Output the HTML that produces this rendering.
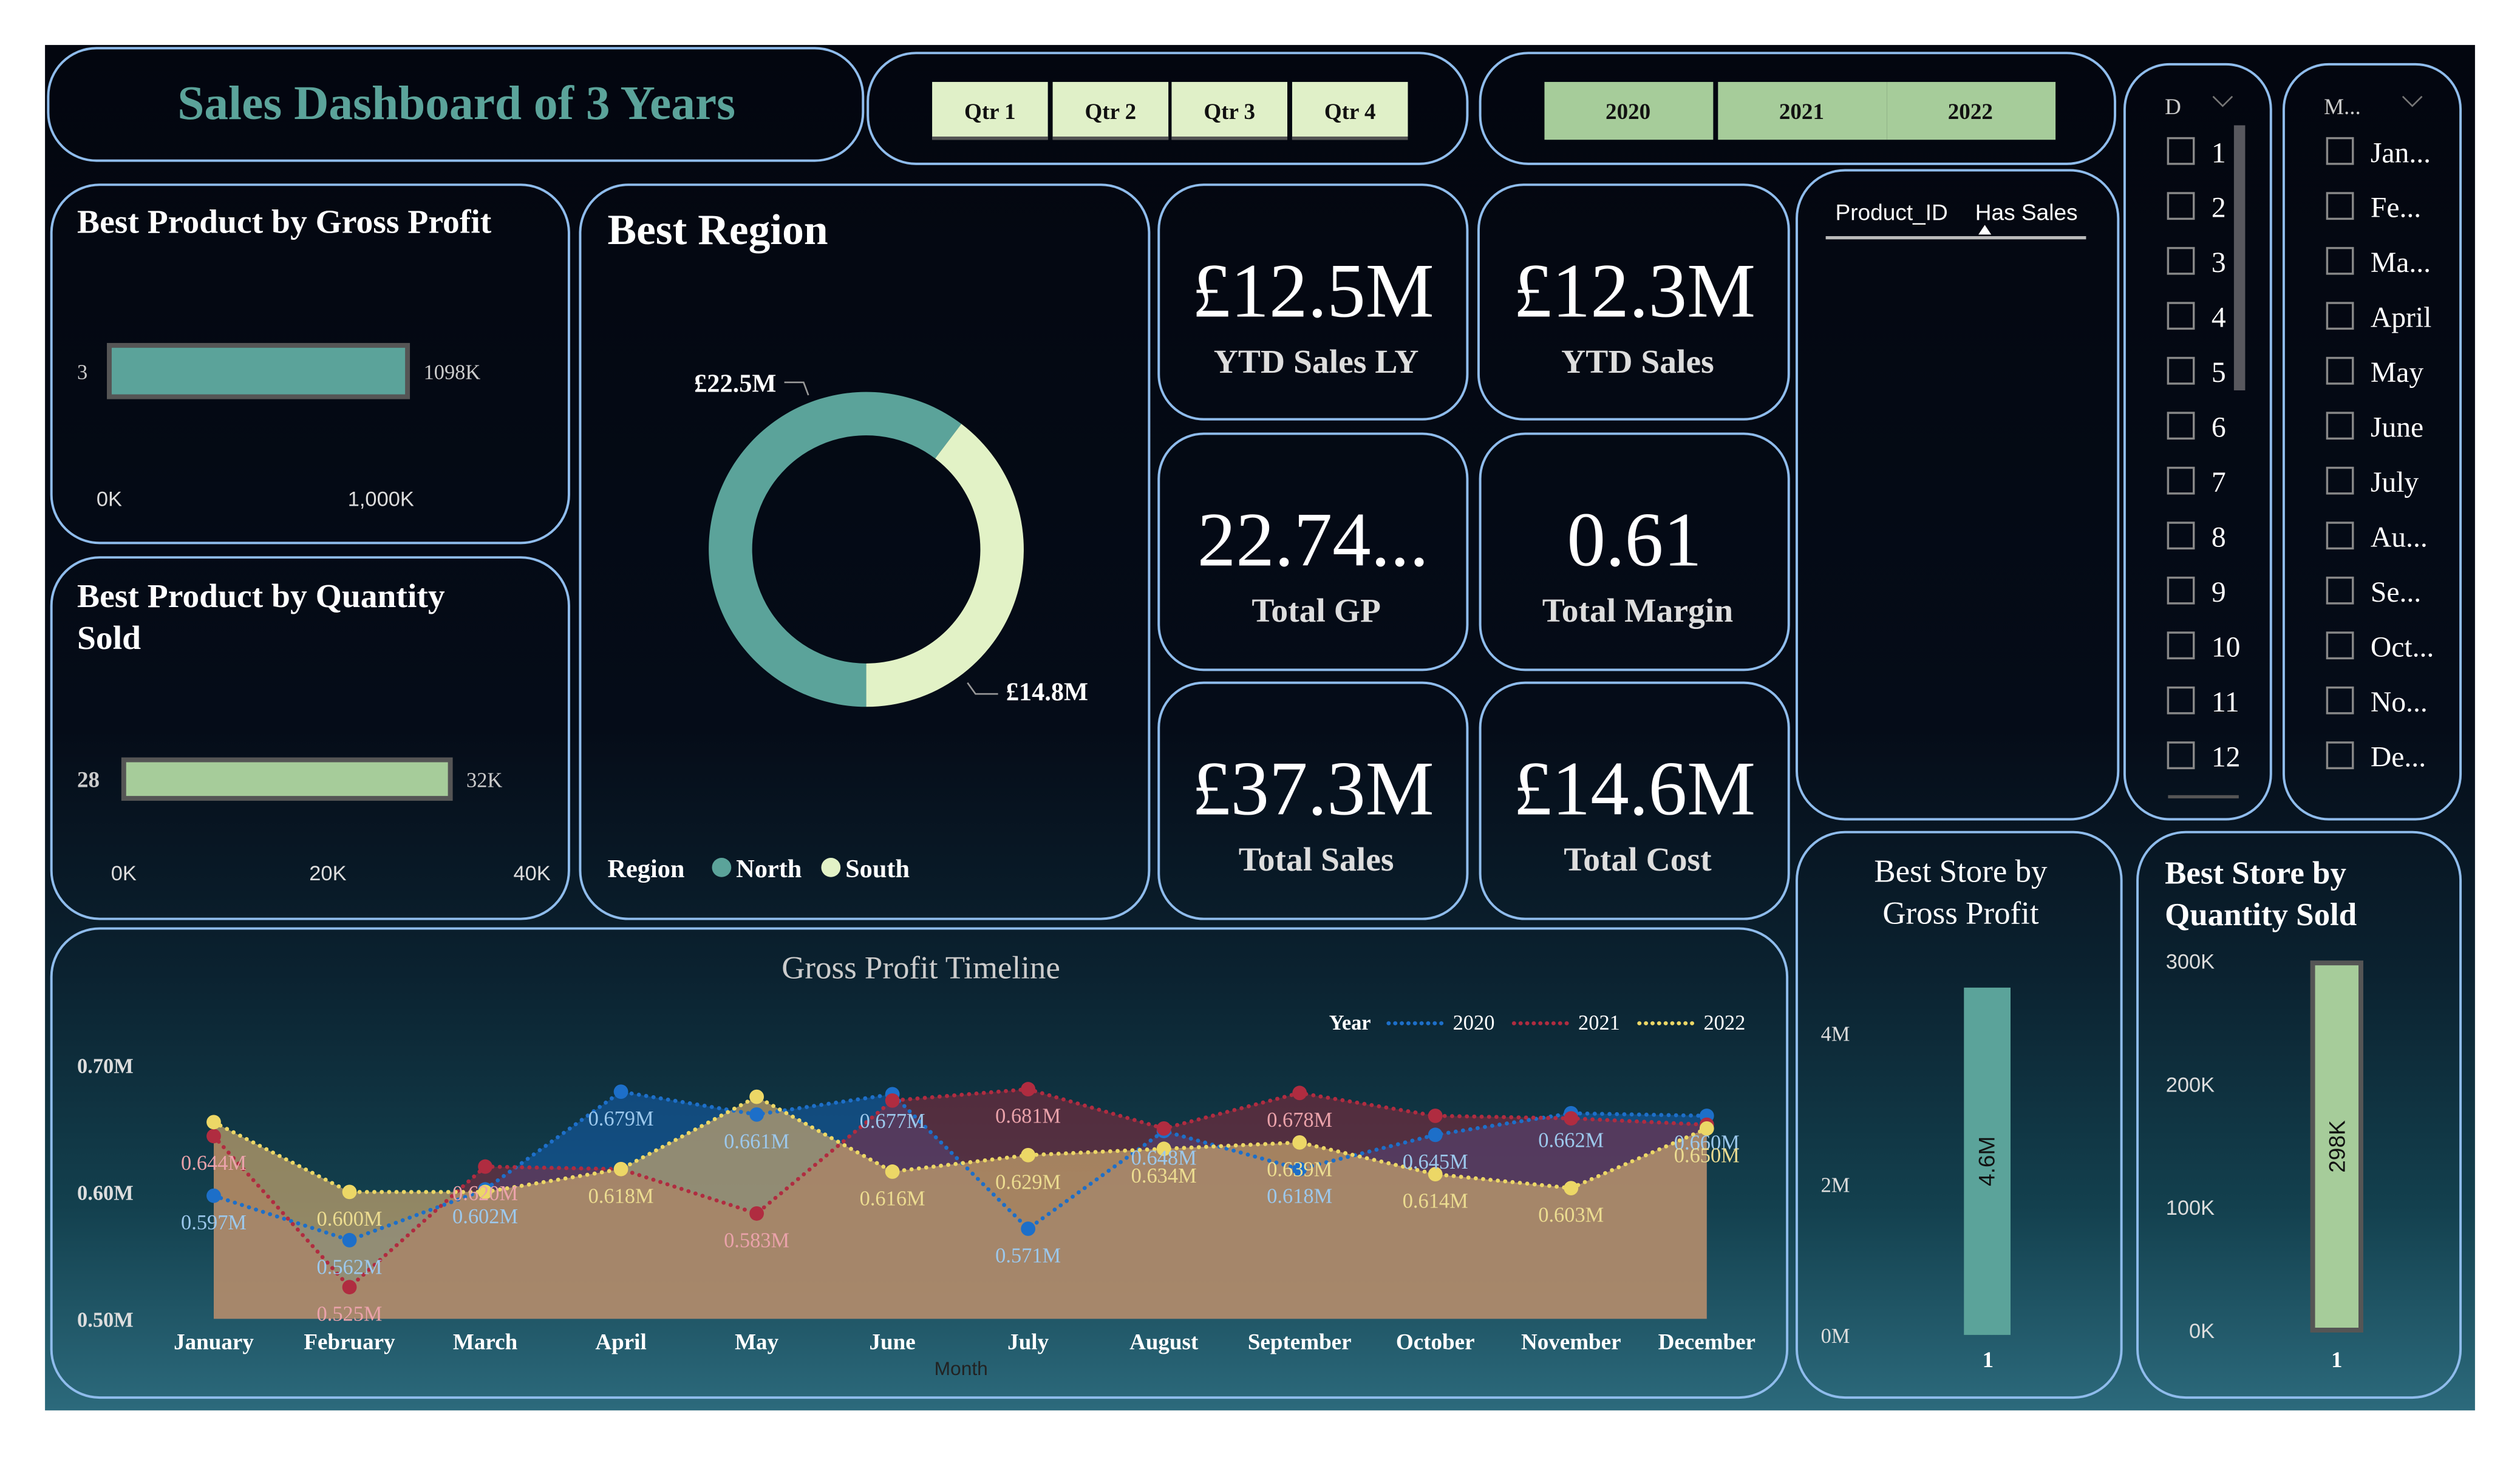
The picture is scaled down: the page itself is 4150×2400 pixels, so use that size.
<!DOCTYPE html>
<html><head><meta charset="utf-8"><style>
html,body{margin:0;padding:0;background:#fff;width:4150px;height:2400px;overflow:hidden}
svg{display:block}
text{font-family:"Liberation Serif",serif}
.sans{font-family:"Liberation Sans",sans-serif}
</style></head><body>
<svg id="root" width="4150" height="2400" viewBox="0 0 1568 907" preserveAspectRatio="none" xmlns="http://www.w3.org/2000/svg">
<defs>
<linearGradient id="bg" x1="0" y1="0" x2="0" y2="1">
<stop offset="0" stop-color="#03060f"/><stop offset="0.5" stop-color="#050c18"/>
<stop offset="0.68" stop-color="#0b2230"/><stop offset="0.85" stop-color="#13404e"/><stop offset="1" stop-color="#2c6a7c"/>
</linearGradient>
</defs>
<rect x="28" y="28" width="1512" height="850" fill="url(#bg)"/>
<g id="panels" fill="none" stroke="#8fbcec" stroke-width="1.5"></g>

<text x="284" y="74" text-anchor="middle" font-size="30" font-weight="bold" fill="#5ba39a">Sales Dashboard of 3 Years</text>

<g id="qtr"></g><g id="years"></g>

<text x="48" y="145" font-size="21" font-weight="bold" fill="#fff">Best Product by Gross Profit</text>
<g id="prodgp"></g>
<text x="48" y="378" font-size="21" font-weight="bold" fill="#fff">Best Product by Quantity</text>
<text x="48" y="404" font-size="21" font-weight="bold" fill="#fff">Sold</text>
<g id="prodqty"></g>

<text x="378" y="152" font-size="27" font-weight="bold" fill="#fff">Best Region</text>
<g id="donut"></g>
<text x="378" y="546" font-size="16" font-weight="bold" fill="#fff">Region</text>
<circle cx="449" cy="540" r="6" fill="#5ba39a"/>
<text x="458" y="546" font-size="16" font-weight="bold" fill="#fff">North</text>
<circle cx="517" cy="540" r="6" fill="#e2f2c6"/>
<text x="526" y="546" font-size="16" font-weight="bold" fill="#fff">South</text>

<g id="kpis"></g>

<text x="1142" y="137" font-size="14" fill="#fff" class="sans">Product_ID</text>
<text x="1229" y="137" font-size="14" fill="#fff" class="sans">Has Sales</text>
<path d="M1231 146 L1235 140 L1239 146 Z" fill="#fff"/>
<rect x="1136" y="147" width="162" height="2" fill="#bbb"/>

<g id="slicers"></g>
<g id="timeline"></g>
<g id="stores"></g>
</svg>
<script>
const NS="http://www.w3.org/2000/svg";
function mk(tag,attrs,parent,txt){const e=document.createElementNS(NS,tag);for(const k in attrs)e.setAttribute(k,attrs[k]);if(txt!==undefined)e.textContent=txt;parent.appendChild(e);return e;}
const $=id=>document.getElementById(id);

// ---- data arrays ----
const months=["January","February","March","April","May","June","July","August","September","October","November","December"];
const gp2020=[0.597,0.562,0.602,0.679,0.661,0.677,0.571,0.648,0.618,0.645,0.662,0.660];
const gp2021=[0.644,0.525,0.620,0.618,0.583,0.672,0.681,0.650,0.678,0.660,0.658,0.653];
const gp2022=[0.655,0.600,0.600,0.618,0.675,0.616,0.629,0.634,0.639,0.614,0.603,0.650];
const show2020=[1,1,1,1,1,1,1,1,1,1,1,1];
const show2021=[1,1,1,0,1,0,1,0,1,0,0,0];
const show2022=[0,1,0,1,0,1,1,1,1,1,1,1];
const gpTicks=[0.50,0.60,0.70];
const regionNames=["North","South"];
const regionValues=[22.5,14.8];
const prodGpValue=[1098];
const prodGpTicks=[0,1000];
const prodQtyValue=[32];
const prodQtyTicks=[0,20,40];
const storeGpValue=[4.6];
const storeGpTicks=[0,2,4];
const storeQtyValue=[298];
const storeQtyTicks=[0,100,200,300];
const kpiValues=["£12.5M","£12.3M","22.74...","0.61","£37.3M","£14.6M"];
const kpiLabels=["YTD Sales LY","YTD Sales","Total GP","Total Margin","Total Sales","Total Cost"];
const dayItems=["1","2","3","4","5","6","7","8","9","10","11","12"];
const monthItems=["Jan...","Fe...","Ma...","April","May","June","July","Au...","Se...","Oct...","No...","De..."];

const panels=[["title-panel",30,30,507,70,30],["quarter-slicer-panel",540,33,373,69,30],["year-slicer-panel",921,33,395,69,30],
["day-slicer-panel",1322,40,91,470,28],["month-slicer-panel",1421,40,110,470,28],
["product-gp-panel",32,115,322,223,30],["product-qty-panel",32,347,322,225,30],["region-panel",361,115,354,457,30],
["kpi-panel-1",721,115,192,146,28],["kpi-panel-2",920,115,193,146,28],["kpi-panel-3",721,270,192,147,28],
["kpi-panel-4",921,270,192,147,28],["kpi-panel-5",721,425,192,147,28],["kpi-panel-6",921,425,192,147,28],
["product-table-panel",1118,106,200,404,30],["gp-timeline-panel",32,578,1080,292,30],
["store-gp-panel",1118,518,202,352,30],["store-qty-panel",1330,518,201,352,30]];
panels.forEach(p=>{const r=mk("rect",{x:p[1],y:p[2],width:p[3],height:p[4],rx:p[5]},$("panels"));

});

const qx=[580,655,729,804];
["Qtr 1","Qtr 2","Qtr 3","Qtr 4"].forEach((q,i)=>{
 const r=mk("rect",{x:qx[i],y:51,width:72,height:36,fill:"#e0f0c8"},$("qtr"));
 
 
 mk("rect",{x:qx[i],y:85,width:72,height:2,fill:"#555"},$("qtr"));
 const t=mk("text",{x:qx[i]+36,y:74,"text-anchor":"middle","font-size":14,"font-weight":"bold",fill:"#111"},$("qtr"),q);
 
 
});
const yx=[961,1069,1174];
["2020","2021","2022"].forEach((y,i)=>{
 const r=mk("rect",{x:yx[i],y:51,width:105,height:36,fill:"#a6cc9a"},$("years"));
 
 
 const t=mk("text",{x:yx[i]+52,y:74,"text-anchor":"middle","font-size":14,"font-weight":"bold",fill:"#111"},$("years"),y);
 
 
});

(function(){
 const g=$("prodgp"),x0=68,sx=169/1000;
 const b=mk("rect",{x:x0,y:215,width:prodGpValue[0]*sx,height:32,fill:"#5ba39a",stroke:"#555","stroke-width":3},g);
 
 
 mk("text",{x:48,y:236,"font-size":13,fill:"#ccc"},g,"3");
 mk("text",{x:x0+prodGpValue[0]*sx+10,y:236,"font-size":13,fill:"#ccc"},g,prodGpValue[0]+"K");
 prodGpTicks.forEach(t=>{const e=mk("text",{x:x0+t*sx,y:315,"text-anchor":"middle","font-size":13,fill:"#ddd",class:"sans"},g,t===0?"0K":(t/1000).toFixed(3).replace(".",",")+"K");
  
  });
 const g2=$("prodqty"),x1=77,s2=127/20;
 const b2=mk("rect",{x:x1,y:473,width:prodQtyValue[0]*s2,height:24,fill:"#a6cc9a",stroke:"#555","stroke-width":3},g2);
 
 
 mk("text",{x:48,y:490,"font-size":14,"font-weight":"bold",fill:"#ccc"},g2,"28");
 mk("text",{x:x1+prodQtyValue[0]*s2+10,y:490,"font-size":13,fill:"#ccc"},g2,prodQtyValue[0]+"K");
 prodQtyTicks.forEach(t=>{const e=mk("text",{x:x1+t*s2,y:548,"text-anchor":"middle","font-size":13,fill:"#ddd",class:"sans"},g2,t+"K");
  
  });
})();

(function(){
 const g=$("donut"),cx=539,cy=342,R=98,r=71;
 const tot=regionValues.reduce((a,b)=>a+b,0);
 const cols=["#5ba39a","#e2f2c6"];
 let start=180;
 const pt=(a,rad)=>[cx+rad*Math.sin(a*Math.PI/180),cy-rad*Math.cos(a*Math.PI/180)];
 regionValues.forEach((v,i)=>{
  const sw=v/tot*360,end=start+sw;
  const [x1,y1]=pt(start,R),[x2,y2]=pt(end,R),[x3,y3]=pt(end,r),[x4,y4]=pt(start,r);
  const lg=sw>180?1:0;
  const p=mk("path",{d:`M${x1} ${y1} A${R} ${R} 0 ${lg} 1 ${x2} ${y2} L${x3} ${y3} A${r} ${r} 0 ${lg} 0 ${x4} ${y4}Z`,fill:cols[i]},g);
  
  
  start=end;
 });
 mk("text",{x:483,y:244,"text-anchor":"end","font-size":16,"font-weight":"bold",fill:"#fff"},g,"£"+regionValues[0]+"M");
 mk("path",{d:"M488 238 L500 238 L503 246",stroke:"#999",fill:"none"},g);
 mk("text",{x:626,y:436,"font-size":16,"font-weight":"bold",fill:"#fff"},g,"£"+regionValues[1]+"M");
 mk("path",{d:"M602 425 L607 432 L621 432",stroke:"#999",fill:"none"},g);
})();

const kcx=[817,1017,817,1017,817,1017],kcy=[115,115,270,270,425,425];
kpiValues.forEach((v,i)=>{
 const a=mk("text",{x:kcx[i],y:kcy[i]+82,"text-anchor":"middle","font-size":48,fill:"#fff"},$("kpis"),v);
 
 
 const b=mk("text",{x:kcx[i]+2,y:kcy[i]+117,"text-anchor":"middle","font-size":21,"font-weight":"bold",fill:"#ddd"},$("kpis"),kpiLabels[i]);
 
 
});

(function(){
 const g=$("slicers");
 mk("text",{x:1347,y:71,"font-size":14,fill:"#ccc"},g,"D");
 mk("path",{d:"M1377 60 L1383 66 L1389 60",stroke:"#777",fill:"none"},g);
 mk("text",{x:1446,y:71,"font-size":14,fill:"#ccc"},g,"M...");
 mk("path",{d:"M1495 60 L1501 66 L1507 60",stroke:"#777",fill:"none"},g);
 mk("rect",{x:1390,y:78,width:7,height:165,fill:"#58585e"},g);
 mk("rect",{x:1349,y:495,width:44,height:2,fill:"#555"},g);
 dayItems.forEach((d,i)=>{const y=94+i*34.2;
  const c=mk("rect",{x:1349,y:y-8,width:16,height:16,fill:"none",stroke:"#888","stroke-width":1.3},g);
  
  
  mk("text",{x:1376,y:y+7,"font-size":18,fill:"#fff"},g,d);});
 monthItems.forEach((m,i)=>{const y=94+i*34.2;
  const c=mk("rect",{x:1448,y:y-8,width:16,height:16,fill:"none",stroke:"#888","stroke-width":1.3},g);
  
  
  mk("text",{x:1475,y:y+7,"font-size":18,fill:"#fff"},g,m);});
})();

(function(){
 const g=$("timeline");
 const X=i=>133+i*(1062-133)/11;
 const Y=v=>821-(v-0.5)*790;
 mk("text",{x:573,y:609,"text-anchor":"middle","font-size":20,fill:"#ccc"},g,"Gross Profit Timeline");
 gpTicks.forEach(t=>{const e=mk("text",{x:48,y:Y(t)+5,"font-size":13,"font-weight":"bold",fill:"#ddd"},g,t.toFixed(2)+"M");
  
  });
 months.forEach((m,i)=>{const e=mk("text",{x:X(i),y:840,"text-anchor":"middle","font-size":14,"font-weight":"bold",fill:"#fff"},g,m);
  
  });
 mk("text",{x:598,y:856,"text-anchor":"middle","font-size":12,fill:"#222",class:"sans"},g,"Month");
 const series=[["2020",gp2020,"#1d6fc9","rgba(20,95,175,0.55)","#9cc8ec",show2020],["2021",gp2021,"#b02c40","rgba(150,40,60,0.5)","#eaa2aa",show2021],["2022",gp2022,"#ecd766","rgba(200,165,110,0.7)","#ecdc90",show2022]];
 series.forEach(s=>{
  let d=`M${X(0)} ${Y(0.5)}`;s[1].forEach((v,i)=>d+=` L${X(i)} ${Y(v)}`);d+=` L${X(11)} ${Y(0.5)}Z`;
  const a=mk("path",{d,fill:s[3]},g);
  
  
 });
 series.forEach(s=>{
  const l=mk("polyline",{points:s[1].map((v,i)=>X(i)+","+Y(v)).join(" "),fill:"none",stroke:s[2],"stroke-width":2.5,"stroke-dasharray":"0.1 4.5","stroke-linecap":"round"},g);
  
  
  s[1].forEach((v,i)=>{
   const c=mk("circle",{cx:X(i),cy:Y(v),r:4.5,fill:s[2]},g);
   
   
  });
 });
 series.forEach(s=>{s[1].forEach((v,i)=>{
  if(!s[5][i])return;
  const t=mk("text",{x:X(i),y:Y(v)+21,"text-anchor":"middle","font-size":13,fill:s[4]},g,v.toFixed(3)+"M");
  
  
 });});
 mk("text",{x:827,y:641,"font-size":13,"font-weight":"bold",fill:"#fff"},g,"Year");
 const lx=[864,942,1020];
 series.forEach((s,i)=>{
  mk("line",{x1:lx[i],y1:637,x2:lx[i]+36,y2:637,stroke:s[2],"stroke-width":2.5,"stroke-dasharray":"0.1 4","stroke-linecap":"round"},g);
  const t=mk("text",{x:lx[i]+40,y:641,"font-size":13,fill:"#fff"},g,s[0]);
  
  
 });
})();

(function(){
 const g=$("stores");
 mk("text",{x:1220,y:549,"text-anchor":"middle","font-size":20,fill:"#fff"},g,"Best Store by");
 mk("text",{x:1220,y:575,"text-anchor":"middle","font-size":20,fill:"#fff"},g,"Gross Profit");
 const Y1=v=>831-v*47;
 storeGpTicks.forEach(t=>{const e=mk("text",{x:1133,y:Y1(t)+5,"font-size":13,fill:"#ddd"},g,t+"M");
  
  });
 const b=mk("rect",{x:1222,y:Y1(storeGpValue[0]),width:29,height:Y1(0)-Y1(storeGpValue[0]),fill:"#5ba39a"},g);
 
 
 mk("text",{x:0,y:0,"text-anchor":"middle","font-size":14,fill:"#111",class:"sans",transform:`translate(1241 ${(Y1(0)+Y1(storeGpValue[0]))/2}) rotate(-90)`},g,storeGpValue[0]+"M");
 mk("text",{x:1237,y:851,"text-anchor":"middle","font-size":14,"font-weight":"bold",fill:"#fff"},g,"1");

 mk("text",{x:1347,y:550,"font-size":20,"font-weight":"bold",fill:"#fff"},g,"Best Store by");
 mk("text",{x:1347,y:576,"font-size":20,"font-weight":"bold",fill:"#fff"},g,"Quantity Sold");
 const Y2=v=>828-v*0.767;
 storeQtyTicks.forEach(t=>{const e=mk("text",{x:1378,y:Y2(t)+5,"text-anchor":"end","font-size":13,fill:"#ddd",class:"sans"},g,t+"K");
  
  });
 const b2=mk("rect",{x:1439,y:Y2(storeQtyValue[0]),width:30,height:Y2(0)-Y2(storeQtyValue[0]),fill:"#a6cc9a",stroke:"#555","stroke-width":3},g);
 
 
 mk("text",{x:0,y:0,"text-anchor":"middle","font-size":14,fill:"#111",class:"sans",transform:`translate(1459 ${(Y2(0)+Y2(storeQtyValue[0]))/2}) rotate(-90)`},g,storeQtyValue[0]+"K");
 mk("text",{x:1454,y:851,"text-anchor":"middle","font-size":14,"font-weight":"bold",fill:"#fff"},g,"1");
})();
</script>
</body></html>
